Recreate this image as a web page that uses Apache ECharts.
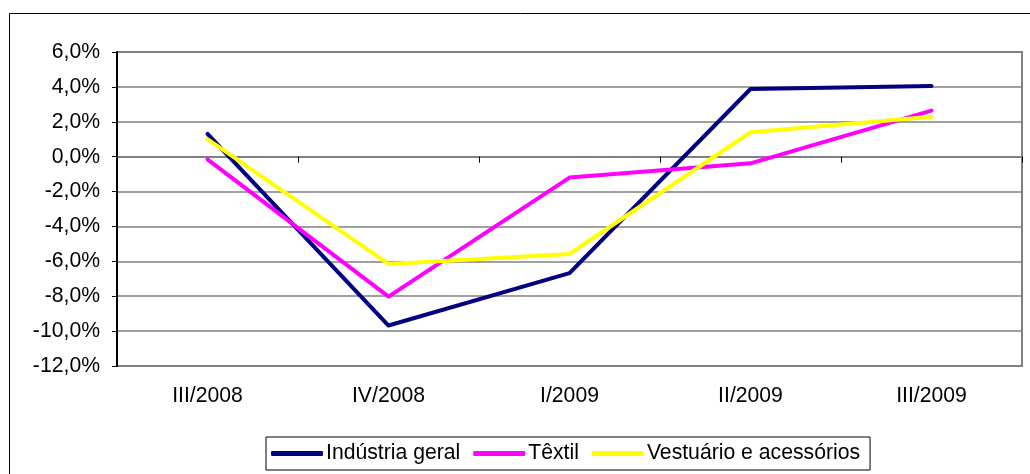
<!DOCTYPE html>
<html>
<head>
<meta charset="utf-8">
<script src="https://cdn.jsdelivr.net/npm/echarts@6/dist/echarts.min.js"></script>
<style>
html,body{margin:0;padding:0;background:#fff;}
#chart{width:1030px;height:474px;}
</style>
</head>
<body>
<div id="chart"></div>
<script>
var categories = ['III/2008', 'IV/2008', 'I/2009', 'II/2009', 'III/2009'];
var seriesNames = ['Indústria geral', 'Têxtil', 'Vestuário e acessórios'];
var industriaGeral = [1.30, -9.68, -6.68, 3.88, 4.05];
var textil = [-0.15, -8.02, -1.20, -0.38, 2.64];
var vestuario = [1.01, -6.15, -5.58, 1.40, 2.29];
var seriesColors = ['#000080', '#FF00FF', '#FFFF00'];

var FONT = '"Liberation Sans", Arial, sans-serif';
var FS = 21.2;
var chart = echarts.init(document.getElementById('chart'));

function mk(name, data, color) {
  return {
    name: name, type: 'line', data: data, xAxisIndex: 0, yAxisIndex: 0,
    symbol: 'none', smooth: false,
    lineStyle: {color: color, width: 4, cap: 'round', join: 'round'},
    itemStyle: {color: color},
    emphasis: {disabled: true}
  };
}

chart.setOption({
  animation: false,
  backgroundColor: '#fff',
  graphic: [{
    type: 'rect', silent: true, z: 0,
    shape: {x: 9.5, y: 13.5, width: 1100, height: 600},
    style: {fill: 'none', stroke: '#000', lineWidth: 1}
  }],
  grid: {
    left: 117, top: 52, right: 8, bottom: 108,
    show: true, borderColor: '#808080', borderWidth: 2, backgroundColor: 'transparent'
  },
  legend: {
    left: 266, top: 437,
    data: seriesNames,
    orient: 'horizontal',
    itemWidth: 52, itemHeight: 5, itemGap: 13,
    icon: 'roundRect',
    padding: [6, 10, 6, 5],
    borderColor: '#000', borderWidth: 1,
    textStyle: {fontFamily: FONT, fontSize: FS, color: '#000', padding: [0, 0, 0, -2]}
  },
  xAxis: [{
    type: 'category', data: categories, boundaryGap: true,
    axisLine: {onZero: true, lineStyle: {color: '#808080', width: 2}},
    axisTick: {show: true, inside: false, length: 6, interval: 0, lineStyle: {color: '#000', width: 1}},
    axisLabel: {show: false},
    splitLine: {show: false}
  }, {
    type: 'category', data: categories, boundaryGap: true, position: 'bottom',
    axisLine: {show: false}, axisTick: {show: false},
    axisLabel: {show: true, interval: 0, margin: 20, fontFamily: FONT, fontSize: FS, color: '#000'},
    splitLine: {show: false}
  }],
  yAxis: [{
    type: 'value', min: -12, max: 6, interval: 2,
    axisLine: {show: true, onZero: false, lineStyle: {color: '#000', width: 2}},
    axisTick: {show: true, length: 5, lineStyle: {color: '#000', width: 1}},
    axisLabel: {
      fontFamily: FONT, fontSize: FS, color: '#000', margin: 17,
      formatter: function (v) { return v.toFixed(1).replace('.', ',') + '%'; }
    },
    splitLine: {show: true, lineStyle: {color: '#808080', width: 1.5}}
  }],
  series: [
    mk(seriesNames[0], industriaGeral, seriesColors[0]),
    mk(seriesNames[1], textil, seriesColors[1]),
    mk(seriesNames[2], vestuario, seriesColors[2])
  ]
});
</script>
</body>
</html>
